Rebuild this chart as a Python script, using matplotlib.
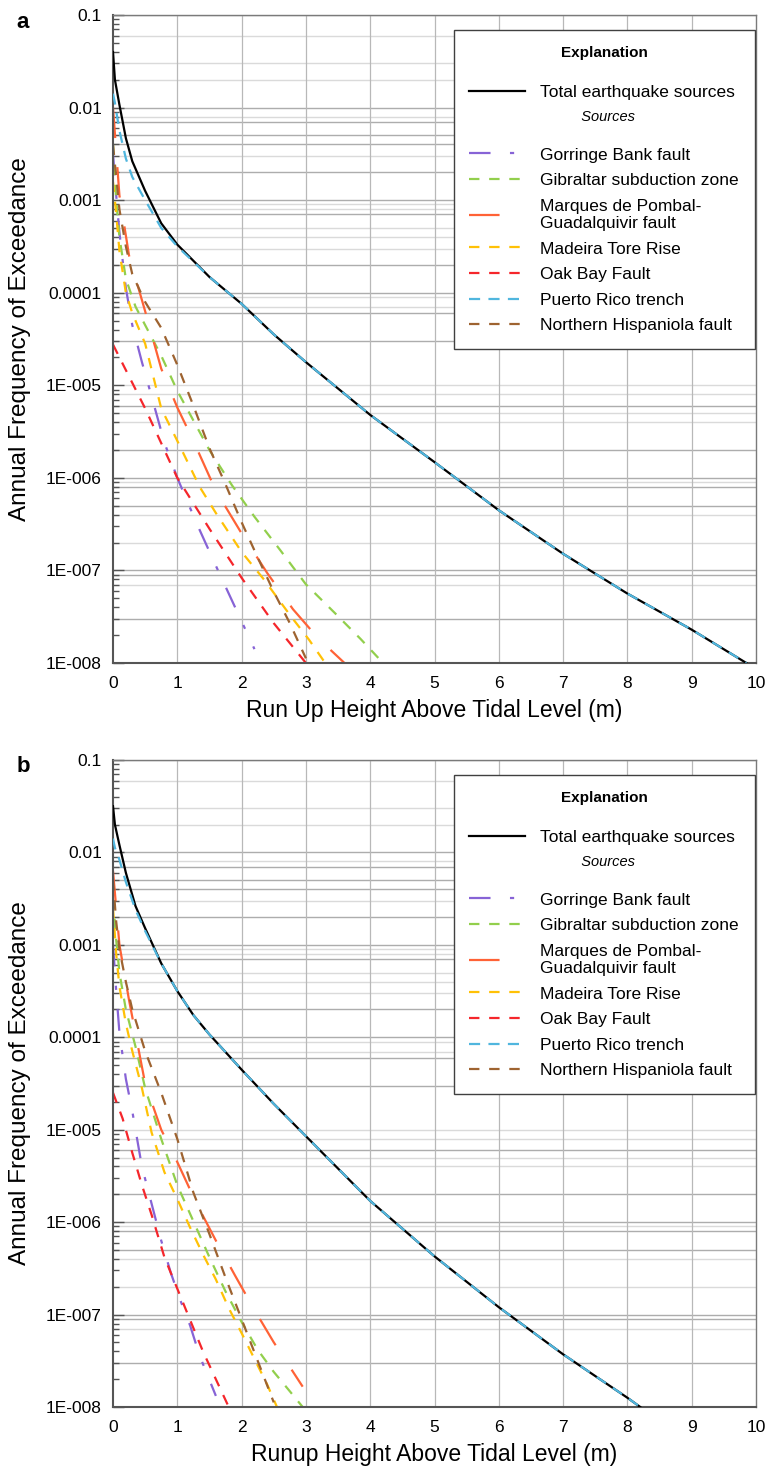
import numpy as np
import matplotlib
matplotlib.use("Agg")
import matplotlib.pyplot as plt
from matplotlib.lines import Line2D
from matplotlib.ticker import LogLocator, NullFormatter

plt.rcParams['font.family'] = ['Liberation Sans', 'DejaVu Sans']
plt.rcParams['lines.scale_dashes'] = False

# ---- values: x in m, y as log10(annual frequency) ----

# panel a
a_total_x = [0, 0.03, 0.1, 0.2, 0.3, 0.5, 0.75, 1.0, 1.5, 2.0, 2.5, 3.0, 4.0, 5.0, 6.0, 7.0, 8.0, 9.0, 9.85]
a_total_y = [-1.4, -1.7, -1.97, -2.33, -2.58, -2.9, -3.25, -3.48, -3.83, -4.12, -4.45, -4.75, -5.32, -5.83, -6.35, -6.82, -7.25, -7.64, -8.0]
a_puerto_x = [0, 0.03, 0.1, 0.2, 0.3, 0.5, 0.75, 1.0, 1.5, 2.0, 2.5, 3.0, 4.0, 5.0, 6.0, 7.0, 8.0, 9.0, 9.85]
a_puerto_y = [-1.85, -1.95, -2.25, -2.55, -2.75, -3.0, -3.3, -3.5, -3.83, -4.12, -4.45, -4.75, -5.32, -5.83, -6.35, -6.82, -7.25, -7.64, -8.0]
a_gorringe_x = [0.0, 0.05, 0.1, 0.2, 0.3, 0.45, 0.6, 0.8, 1.0, 1.3, 1.6, 1.9, 2.2]
a_gorringe_y = [-2.5, -2.95, -3.35, -3.95, -4.35, -4.75, -5.12, -5.62, -6.0, -6.49, -6.95, -7.4, -7.85]
a_gibraltar_x = [0, 0.05, 0.1, 0.2, 0.35, 0.5, 0.75, 1.0, 1.25, 1.5, 1.85, 2.2, 2.6, 3.0, 3.45, 3.85, 4.2]
a_gibraltar_y = [-2.4, -3.0, -3.4, -3.85, -4.15, -4.35, -4.68, -5.06, -5.38, -5.7, -6.08, -6.42, -6.78, -7.15, -7.46, -7.74, -8.0]
a_marques_x = [0, 0.1, 0.25, 0.5, 0.75, 1.0, 1.25, 1.6, 2.0, 2.4, 2.8, 3.2, 3.6]
a_marques_y = [-2.0, -2.95, -3.6, -4.2, -4.82, -5.24, -5.6, -6.14, -6.6, -7.03, -7.42, -7.74, -8.0]
a_madeira_x = [0, 0.05, 0.1, 0.2, 0.3, 0.5, 0.75, 1.0, 1.35, 1.6, 2.0, 2.35, 2.75, 3.05, 3.3]
a_madeira_y = [-2.8, -3.15, -3.55, -4.0, -4.22, -4.55, -5.25, -5.6, -6.1, -6.38, -6.8, -7.1, -7.48, -7.75, -8.0]
a_oakbay_x = [0, 0.5, 1.0, 1.5, 2.0, 2.5, 3.0]
a_oakbay_y = [-4.56, -5.25, -6.0, -6.55, -7.08, -7.57, -8.0]
a_hispaniola_x = [0, 0.1, 0.2, 0.3, 0.5, 0.75, 1.0, 1.25, 1.5, 1.75, 2.0, 2.25, 2.5, 2.75, 3.0]
a_hispaniola_y = [-2.4, -3.1, -3.5, -3.8, -4.1, -4.38, -4.78, -5.22, -5.68, -6.07, -6.48, -6.86, -7.23, -7.57, -7.95]

# panel b
b_total_x = [0, 0.03, 0.1, 0.2, 0.35, 0.5, 0.75, 1.0, 1.25, 1.5, 2.0, 2.5, 3.0, 3.5, 4.0, 5.0, 6.0, 7.0, 8.0, 8.2]
b_total_y = [-1.5, -1.7, -1.92, -2.22, -2.58, -2.82, -3.2, -3.5, -3.76, -3.97, -4.35, -4.72, -5.07, -5.42, -5.77, -6.37, -6.92, -7.43, -7.9, -8.0]
b_puerto_x = [0, 0.03, 0.1, 0.2, 0.35, 0.5, 0.75, 1.0, 1.25, 1.5, 2.0, 2.5, 3.0, 3.5, 4.0, 5.0, 6.0, 7.0, 8.0, 8.2]
b_puerto_y = [-1.85, -1.95, -2.08, -2.32, -2.62, -2.85, -3.2, -3.5, -3.76, -3.97, -4.35, -4.72, -5.07, -5.42, -5.77, -6.37, -6.92, -7.43, -7.9, -8.0]
b_gorringe_x = [0, 0.05, 0.1, 0.2, 0.3, 0.45, 0.6, 0.75, 0.9, 1.05, 1.2, 1.35, 1.6]
b_gorringe_y = [-3.0, -3.5, -3.95, -4.45, -4.8, -5.4, -5.8, -6.2, -6.55, -6.85, -7.12, -7.45, -7.88]
b_gibraltar_x = [0, 0.05, 0.1, 0.2, 0.35, 0.5, 0.75, 1.0, 1.25, 1.5, 1.75, 2.0, 2.25, 2.5, 2.75, 2.95]
b_gibraltar_y = [-2.5, -2.95, -3.3, -3.7, -4.1, -4.55, -5.1, -5.6, -5.99, -6.38, -6.75, -7.08, -7.38, -7.62, -7.83, -8.0]
b_marques_x = [0, 0.1, 0.25, 0.5, 0.75, 1.0, 1.3, 1.6, 1.9, 2.2, 2.5, 2.8, 2.95]
b_marques_y = [-2.2, -3.0, -3.6, -4.5, -5.0, -5.35, -5.8, -6.2, -6.58, -6.95, -7.3, -7.62, -7.78]
b_madeira_x = [0, 0.05, 0.1, 0.2, 0.3, 0.45, 0.6, 0.8, 1.0, 1.2, 1.4, 1.6, 1.8, 2.0, 2.2, 2.4, 2.55]
b_madeira_y = [-2.6, -3.1, -3.45, -3.85, -4.15, -4.55, -5.03, -5.46, -5.75, -6.06, -6.35, -6.62, -6.93, -7.2, -7.48, -7.76, -8.0]
b_oakbay_x = [0, 0.15, 0.3, 0.45, 0.6, 0.8, 1.0, 1.2, 1.4, 1.6, 1.8]
b_oakbay_y = [-4.6, -4.88, -5.25, -5.6, -5.92, -6.38, -6.72, -7.06, -7.4, -7.7, -8.0]
b_hispaniola_x = [0, 0.05, 0.1, 0.2, 0.3, 0.5, 0.75, 1.0, 1.25, 1.5, 1.75, 2.0, 2.25, 2.5]
b_hispaniola_y = [-2.3, -2.75, -3.05, -3.4, -3.7, -4.15, -4.6, -5.1, -5.68, -6.13, -6.6, -7.05, -7.5, -7.95]

source_names = ['Gorringe Bank fault', 'Gibraltar subduction zone',
                'Marques de Pombal-\nGuadalquivir fault', 'Madeira Tore Rise',
                'Oak Bay Fault', 'Puerto Rico trench', 'Northern Hispaniola fault']
y_ticks = [1e-8, 1e-7, 1e-6, 1e-5, 1e-4, 1e-3, 1e-2, 1e-1]
y_ticklabels = ['1E-008', '1E-007', '1E-006', '1E-005', '0.0001', '0.001', '0.01', '0.1']
x_ticks = list(range(11))

# irregular horizontal grid of the original
grid_dark = [1e-1, 1e-2, 7e-3, 5e-3, 4e-3, 2e-3, 1e-3, 7e-4, 2e-4, 1e-4, 6e-5, 3e-5,
             6e-6, 2e-6, 1e-6, 8e-7, 5e-7, 1e-7, 9e-8, 3e-8]
grid_light = [6e-2, 3e-2, 2e-2, 8e-3, 3e-3, 9e-4, 8e-4, 5e-4, 4e-4, 3e-4, 9e-5, 7e-5,
              1e-5, 8e-6, 5e-6, 4e-6, 9e-7, 4e-7, 2e-7, 7e-8]

# style: colour, dash pattern (points)
styles = {
    'gorringe': ('#8763D6', (15.5, 14, 3, 14)),
    'gibraltar': ('#92CF4C', (7.5, 7)),
    'marques': ('#FF6236', (22, 21)),
    'madeira': ('#FFC106', (7.5, 7)),
    'oakbay': ('#F5262B', (7.5, 7)),
    'puerto': ('#50B6DE', (8, 6)),
    'hispaniola': ('#9E6330', (7.5, 7)),
}


def draw_panel(ax, total, series, xlabel):
    ax.set_yscale('log')
    ax.set_xlim(0, 10)
    ax.set_ylim(1e-8, 0.1)

    for v in grid_light:
        ax.axhline(v, color='#DADADA', lw=1.0, zorder=0.5)
    for v in grid_dark:
        ax.axhline(v, color='#ADADAD', lw=1.0, zorder=0.6)
    for v in x_ticks[1:-1]:
        ax.axvline(v, color='#B8B8B8', lw=0.9, zorder=0.6)

    tx, ty = total
    ax.plot(tx, 10 ** np.array(ty), color='black', lw=1.6, zorder=3)

    handles = []
    for key, (sx, sy) in series:
        col, dash = styles[key]
        ln, = ax.plot(sx, 10 ** np.array(sy), color=col, lw=1.6, dashes=dash,
                      zorder=4 if key == 'puerto' else 2)
        handles.append(ln)

    ax.set_yticks(y_ticks)
    ax.set_yticklabels(y_ticklabels)
    ax.yaxis.set_minor_locator(LogLocator(base=10, subs=np.arange(2, 10)))
    ax.yaxis.set_minor_formatter(NullFormatter())
    ax.set_xticks(x_ticks)
    ax.tick_params(axis='y', which='major', direction='in', length=8, width=1,
                   color='#555555', pad=8, labelsize=12.5)
    ax.tick_params(axis='y', which='minor', direction='in', length=4.5, width=1,
                   color='#555555')
    ax.tick_params(axis='x', length=0, pad=9, labelsize=12.5)
    for side in ['top', 'right']:
        ax.spines[side].set_color('#7A7A7A')
        ax.spines[side].set_linewidth(1.0)
    for side in ['left', 'bottom']:
        ax.spines[side].set_color('#555555')
        ax.spines[side].set_linewidth(1.5)

    ax.set_ylabel('Annual Frequency of Exceedance', fontsize=17.5)
    ax.yaxis.set_label_coords(-0.128, 0.5)
    ax.set_xlabel(xlabel, fontsize=16.5)
    ax.xaxis.set_label_coords(0.5, -0.056)

    blank = Line2D([], [], color='none')
    leg_handles = [Line2D([], [], color='black', lw=1.6), blank] + handles
    leg_labels = ['Total earthquake sources', '          Sources\n'] + source_names
    leg = ax.legend(leg_handles, leg_labels, loc='upper right',
                    bbox_to_anchor=(0.998, 0.977), borderaxespad=0,
                    fontsize=12.5, frameon=True, fancybox=False, framealpha=1,
                    handlelength=3.2, handletextpad=0.9, labelspacing=0.6,
                    borderpad=0.9, title='Explanation',
                    title_fontproperties={'weight': 'bold', 'size': 11})
    leg.get_frame().set_edgecolor('#404040')
    leg.get_frame().set_linewidth(1.0)
    src = leg.get_texts()[1]
    src.set_fontstyle('italic')
    src.set_fontsize(10.5)
    src.set_linespacing(0.9)
    leg._legend_box.sep = 18
    leg.set_zorder(10)


fig = plt.figure(figsize=(7.69, 14.70), dpi=100)
ax_a = fig.add_axes([113 / 769, 1 - 663 / 1470, 643 / 769, 648 / 1470])
ax_b = fig.add_axes([113 / 769, 1 - 1407 / 1470, 643 / 769, 647 / 1470])

draw_panel(ax_a, (a_total_x, a_total_y),
           [('gorringe', (a_gorringe_x, a_gorringe_y)),
            ('gibraltar', (a_gibraltar_x, a_gibraltar_y)),
            ('marques', (a_marques_x, a_marques_y)),
            ('madeira', (a_madeira_x, a_madeira_y)),
            ('oakbay', (a_oakbay_x, a_oakbay_y)),
            ('puerto', (a_puerto_x, a_puerto_y)),
            ('hispaniola', (a_hispaniola_x, a_hispaniola_y))],
           'Run Up Height Above Tidal Level (m)')
draw_panel(ax_b, (b_total_x, b_total_y),
           [('gorringe', (b_gorringe_x, b_gorringe_y)),
            ('gibraltar', (b_gibraltar_x, b_gibraltar_y)),
            ('marques', (b_marques_x, b_marques_y)),
            ('madeira', (b_madeira_x, b_madeira_y)),
            ('oakbay', (b_oakbay_x, b_oakbay_y)),
            ('puerto', (b_puerto_x, b_puerto_y)),
            ('hispaniola', (b_hispaniola_x, b_hispaniola_y))],
           'Runup Height Above Tidal Level (m)')

fig.text(23 / 769, 1 - 22 / 1470, 'a', fontsize=16, weight='bold', ha='center', va='center')
fig.text(23 / 769, 1 - 767 / 1470, 'b', fontsize=16, weight='bold', ha='center', va='center')

fig.savefig('out.png', dpi=100)
